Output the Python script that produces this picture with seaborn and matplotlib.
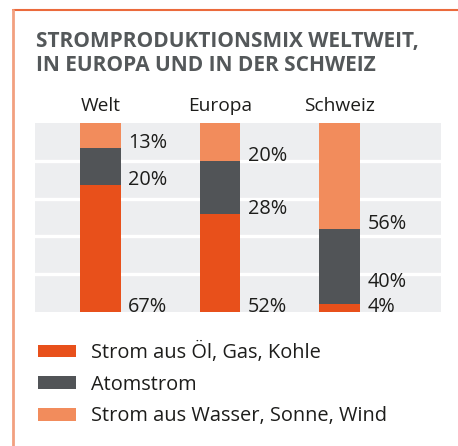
import numpy as np
import pandas as pd
import matplotlib
matplotlib.use('Agg')
import matplotlib.pyplot as plt
import seaborn as sns
from matplotlib.patches import Patch
from matplotlib.lines import Line2D

# ─── DATA ─────────────────────────────────────────────
regionen   = ['Welt', 'Europa', 'Schweiz']
fossil     = [67, 52, 4]     # Strom aus Öl, Gas, Kohle
atom       = [20, 28, 40]    # Atomstrom
erneuerbar = [13, 20, 56]    # Strom aus Wasser, Sonne, Wind

serien = ['Strom aus Öl, Gas, Kohle', 'Atomstrom', 'Strom aus Wasser, Sonne, Wind']
farben = ['#E8501B', '#515457', '#F28C5C']

titel = ['STROMPRODUKTIONSMIX WELTWEIT,', 'IN EUROPA UND IN DER SCHWEIZ']

# ─── STYLE ────────────────────────────────────────────
sns.set_style('white')
plt.rcParams['font.family'] = ['Open Sans', 'DejaVu Sans']
TXT = '#1d1d1b'
FS = 13.8

W, H = 458, 446
fig = plt.figure(figsize=(W / 100, H / 100), dpi=100)
ax = fig.add_axes([35 / W, (H - 312) / H, 406 / W, 189 / H])

df = pd.DataFrame({'region': regionen, 'fossil': fossil,
                   'atom': atom, 'erneuerbar': erneuerbar})
df['top_fossil'] = df['fossil']
df['top_atom'] = df['fossil'] + df['atom']
df['top_ern'] = df['top_atom'] + df['erneuerbar']

# gestapelte Balken: von oben nach unten ueberzeichnen
for col, farbe in zip(['top_ern', 'top_atom', 'top_fossil'], farben[::-1]):
    sns.barplot(data=df, x='region', y=col, color=farbe, width=0.34,
                saturation=1, ax=ax, linewidth=0, zorder=3)

# Beschriftungen rechts neben den Balken
for i in range(len(regionen)):
    segs = [fossil[i], atom[i], erneuerbar[i]]
    bottom = 0
    last = -100
    for v in segs:
        ypos = max(bottom, last + 13)
        ax.text(i + 0.23, ypos, f'{v}%', ha='left', va='baseline',
                fontsize=14.3, color=TXT, zorder=4)
        last = ypos
        bottom += v

ax.set_xlim(-0.546, 2.846)
ax.set_ylim(0, 100)
ax.set_facecolor('#EDEEF0')
ax.set_yticks([20, 40, 60, 80])
ax.yaxis.grid(True, color='white', linewidth=2.4)
ax.set_axisbelow(True)
ax.tick_params(axis='y', left=False, labelleft=False)
ax.xaxis.tick_top()
ax.tick_params(axis='x', top=False, pad=2, labelsize=FS, labelcolor=TXT)
ax.set_xlabel('')
ax.set_ylabel('')
for s in ax.spines.values():
    s.set_visible(False)

# Titel
fig.text(36 / W, 1 - 46.7 / H, titel[0], fontsize=15, fontweight='bold',
         color='#54585A', va='baseline', ha='left')
fig.text(36 / W, 1 - 71 / H, titel[1], fontsize=15, fontweight='bold',
         color='#54585A', va='baseline', ha='left')

# Legende
handles = [Patch(facecolor=f, edgecolor='none') for f in farben]
fig.legend(handles, serien, loc='upper left', bbox_to_anchor=(20 / W, 1 - 324 / H),
           frameon=False, fontsize=14.4, handlelength=1.9, handleheight=0.6,
           handletextpad=0.75, labelspacing=0.58, labelcolor=TXT)

# Rahmenlinien
fig.add_artist(Line2D([13 / W, 1], [1 - 10 / H] * 2, color='#EB6A3C', lw=1.5,
                      transform=fig.transFigure))
fig.add_artist(Line2D([13 / W] * 2, [0, 1 - 10 / H], color='#F2A080', lw=2,
                      transform=fig.transFigure))

fig.savefig('out.png', dpi=100)
